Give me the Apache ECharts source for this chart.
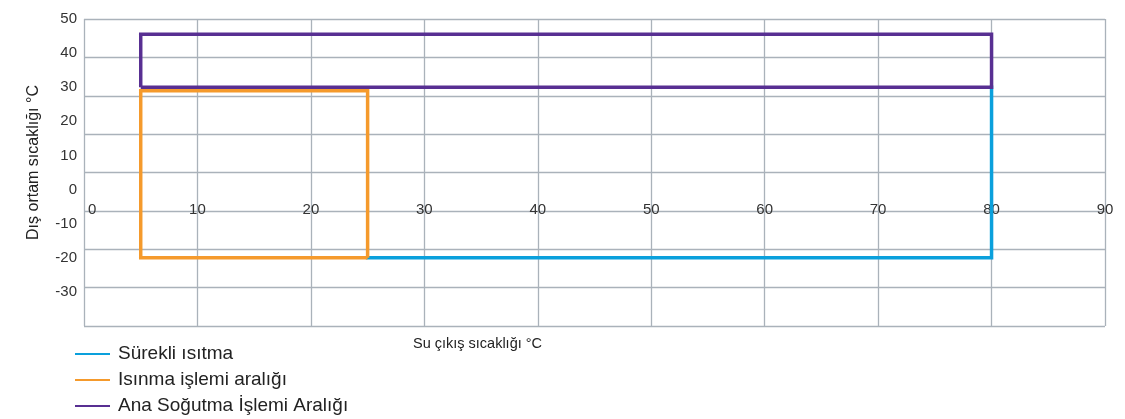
<!DOCTYPE html>
<html><head><meta charset="utf-8">
<script src="https://cdn.jsdelivr.net/npm/echarts@6/dist/echarts.min.js"></script>
<style>html,body{margin:0;padding:0;background:#fff}#c{width:1125px;height:419px}</style>
</head><body><div id="c"></div>
<script>
// Data (x: Su çıkış sıcaklığı °C, y: Dış ortam sıcaklığı °C)
const seriesNames = ['Sürekli ısıtma', 'Isınma işlemi aralığı', 'Ana Soğutma İşlemi Aralığı'];
const surekliIsitma = [[25, -20], [80, -20], [80, 30]];
const isinmaAraligi = [[25, -20], [5, -20], [5, 29], [25, 29], [25, -20]];
const sogutmaAraligi = [[5, 30], [5, 45.5], [80, 45.5], [80, 30], [5, 30]];
const xTicks = [0, 10, 20, 30, 40, 50, 60, 70, 80, 90];
const yTickLabels = [50, 40, 30, 20, 10, 0, -10, -20, -30];
const colors = ['#0aa0dc', '#f59a2c', '#582f92'];

const gridColor = '#aab2ba';
const font = 'Liberation Sans, Arial, sans-serif';
const chart = echarts.init(document.getElementById('c'), null, {renderer: 'canvas'});
chart.setOption({
  animation: false,
  color: colors,
  textStyle: {fontFamily: font},
  grid: {left: 84, right: 20, top: 19, bottom: 93},
  legend: {
    orient: 'vertical', left: 75, top: 344, padding: 0,
    itemWidth: 35, itemHeight: 2, itemGap: 6, icon: 'rect',
    textStyle: {fontSize: 19, color: '#222', fontFamily: font, lineHeight: 20, padding: [0, 0, 0, 3]},
    data: seriesNames
  },
  xAxis: [
    { type: 'value', min: 0, max: 90, interval: 10,
      axisLine: {show: false, onZero: false}, axisTick: {show: false}, axisLabel: {show: false},
      splitLine: {show: true, lineStyle: {color: gridColor, width: 1.3}},
      name: 'Su çıkış sıcaklığı °C', nameLocation: 'middle', nameGap: 10,
      nameTextStyle: {fontSize: 14.5, color: '#222', padding: [0, 234, 0, 0]}
    },
    { type: 'value', min: 0, max: 90, interval: 10, position: 'bottom', offset: -115.3,
      axisLine: {show: false, onZero: false},
      axisTick: {show: false},
      axisLabel: {show: true, fontSize: 15, color: '#333', margin: -8, alignMinLabel: 'left',
        formatter: v => xTicks.includes(v) ? (v === 0 ? '{first|0}' : String(v)) : '',
        rich: {first: {fontSize: 15, color: '#333', padding: [0, 0, 0, 4]}}},
      splitLine: {show: false}
    }
  ],
  yAxis: [
    { type: 'value', min: -30, max: 50, interval: 10,
      axisLine: {show: false, onZero: false}, axisTick: {show: false}, axisLabel: {show: false},
      splitLine: {show: true, lineStyle: {color: gridColor, width: 1.3}}
    },
    { type: 'value', min: -40, max: 50, interval: 10, position: 'left',
      axisLine: {show: false, onZero: false}, axisTick: {show: false}, splitLine: {show: false},
      axisLabel: {show: true, fontSize: 15, color: '#333', margin: 7,
        formatter: v => yTickLabels.includes(v) ? String(v) : ''},
      name: 'Dış ortam sıcaklığı °C', nameLocation: 'middle', nameGap: 42,
      nameTextStyle: {fontSize: 16, color: '#222', padding: [0, 0, 0, 20]}
    }
  ],
  series: [
    {name: seriesNames[0], type: 'line', xAxisIndex: 0, yAxisIndex: 1, data: surekliIsitma,
      showSymbol: false, symbol: 'none', lineStyle: {width: 3.5, color: colors[0], join: 'miter', cap: 'square'}, z: 3},
    {name: seriesNames[1], type: 'line', xAxisIndex: 0, yAxisIndex: 1, data: isinmaAraligi,
      showSymbol: false, symbol: 'none', lineStyle: {width: 3.5, color: colors[1], join: 'miter'}, z: 4},
    {name: seriesNames[2], type: 'line', xAxisIndex: 0, yAxisIndex: 1, data: sogutmaAraligi,
      showSymbol: false, symbol: 'none', lineStyle: {width: 3.5, color: colors[2], join: 'miter'}, z: 5}
  ]
});
</script></body></html>
